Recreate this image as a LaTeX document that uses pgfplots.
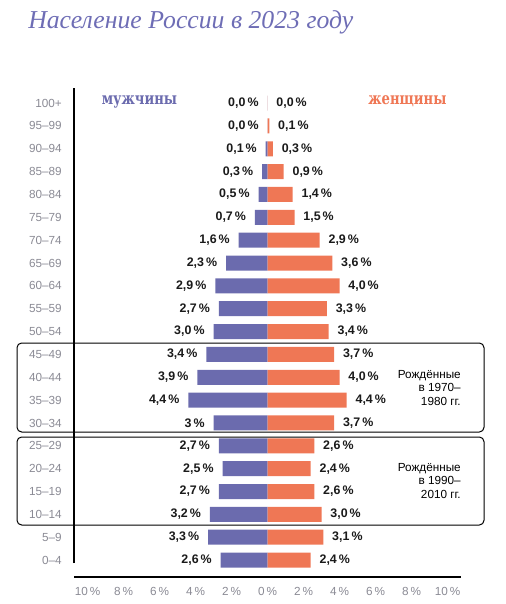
\documentclass[border=0pt]{standalone}
\usepackage{pgfplots}
\usepackage{pgfplotstable}
\pgfplotsset{compat=1.18}
\usepackage{fontspec}
\setmainfont{Liberation Sans}
\newfontfamily\titlefont{Liberation Serif}
\newfontfamily\legendfont{DejaVu Serif}
\definecolor{men}{HTML}{6B6BAE}
\definecolor{women}{HTML}{EF7755}
\definecolor{titlecol}{HTML}{6E6DB5}
\definecolor{ticks}{HTML}{8A8A94}
\definecolor{vals}{HTML}{1A1A1A}

% Age groups, bottom (0) to top (20); shares of population in %
\pgfplotstableread{
idx age   m   f   ml  fl
0   0–4    2.6 2.4 2,6 2,4
1   5–9    3.3 3.1 3,3 3,1
2   10–14  3.2 3.0 3,2 3,0
3   15–19  2.7 2.6 2,7 2,6
4   20–24  2.5 2.4 2,5 2,4
5   25–29  2.7 2.6 2,7 2,6
6   30–34  3.0 3.7 3   3,7
7   35–39  4.4 4.4 4,4 4,4
8   40–44  3.9 4.0 3,9 4,0
9   45–49  3.4 3.7 3,4 3,7
10  50–54  3.0 3.4 3,0 3,4
11  55–59  2.7 3.3 2,7 3,3
12  60–64  2.9 4.0 2,9 4,0
13  65–69  2.3 3.6 2,3 3,6
14  70–74  1.6 2.9 1,6 2,9
15  75–79  0.7 1.5 0,7 1,5
16  80–84  0.5 1.4 0,5 1,4
17  85–89  0.3 0.9 0,3 0,9
18  90–94  0.1 0.3 0,1 0,3
19  95–99  0.0 0.1 0,0 0,1
20  100+   0.0 0.0 0,0 0,0
}\pyramid

\begin{document}
\begin{tikzpicture}
\path[use as bounding box] (0,0) rectangle (379.5pt,-453pt);

\node[anchor=base west, inner sep=0pt, text=titlecol,
      font=\titlefont\itshape\fontsize{19.3}{23}\selectfont]
  at (21pt,-21pt) {Население России в 2023 году};

% cohort frames
\draw[line width=0.75pt, rounded corners=3.5pt] (12.75pt,-257.25pt) rectangle (363pt,-324pt);
\draw[line width=0.75pt, rounded corners=3.5pt] (12.75pt,-327.75pt) rectangle (363pt,-393.75pt);

\begin{axis}[
  at={(55.5pt,-432.75pt)}, anchor=south west,
  scale only axis, width=290.25pt, height=366.75pt,
  xmin=-10.75, xmax=10.75, ymin=-0.74, ymax=20.66,
  axis lines*=left,
  y axis line style={draw=none},
  x axis line style={line width=0.9pt},
  major tick length=0pt,
  xtick={-10,-8,...,10},
  xticklabels={10\,\%,8\,\%,6\,\%,4\,\%,2\,\%,0\,\%,2\,\%,4\,\%,6\,\%,8\,\%,10\,\%},
  xticklabel style={anchor=base, yshift=-13.5pt, text=ticks, font=\fontsize{8.8}{10}\selectfont},
  ytick={0,...,20},
  yticklabels from table={\pyramid}{age},
  yticklabel style={anchor=east, inner xsep=0pt, xshift=-9pt, text=ticks, font=\fontsize{8.8}{10}\selectfont},
  xbar, bar width=11.25pt, bar shift=0pt,
  point meta=explicit symbolic,
  nodes near coords={\pgfplotspointmeta\,\%},
  every node near coord/.append style={font=\bfseries\fontsize{9.3}{10}\selectfont, text=vals, inner xsep=6.5pt},
  clip=false,
]
\addplot[draw=none, fill=men, every node near coord/.append style={anchor=east}]
  table[x expr=-\thisrow{m}, y=idx, meta=ml] {\pyramid};
\addplot[draw=none, fill=women, every node near coord/.append style={anchor=west}]
  table[x=f, y=idx, meta=fl] {\pyramid};

\draw[line width=0.9pt] (axis cs:-10.75,-0.13) -- (axis cs:-10.75,20.66);
\end{axis}

\node[anchor=base, text=men, inner sep=0pt]
  at (104.6pt,-78pt) {\scalebox{0.79}[1]{\legendfont\bfseries\fontsize{12.5}{15}\selectfont мужчины}};
\node[anchor=base, text=women, inner sep=0pt]
  at (305.6pt,-78pt) {\scalebox{0.79}[1]{\legendfont\bfseries\fontsize{12.5}{15}\selectfont женщины}};

\node[anchor=east, align=right, inner sep=0pt, font=\fontsize{8.8}{10.1}\selectfont]
  at (345.75pt,-291pt) {Рождённые\\в 1970–\\1980 гг.};
\node[anchor=east, align=right, inner sep=0pt, font=\fontsize{8.8}{10.1}\selectfont]
  at (345.75pt,-360.75pt) {Рождённые\\в 1990–\\2010 гг.};
\end{tikzpicture}
\end{document}
